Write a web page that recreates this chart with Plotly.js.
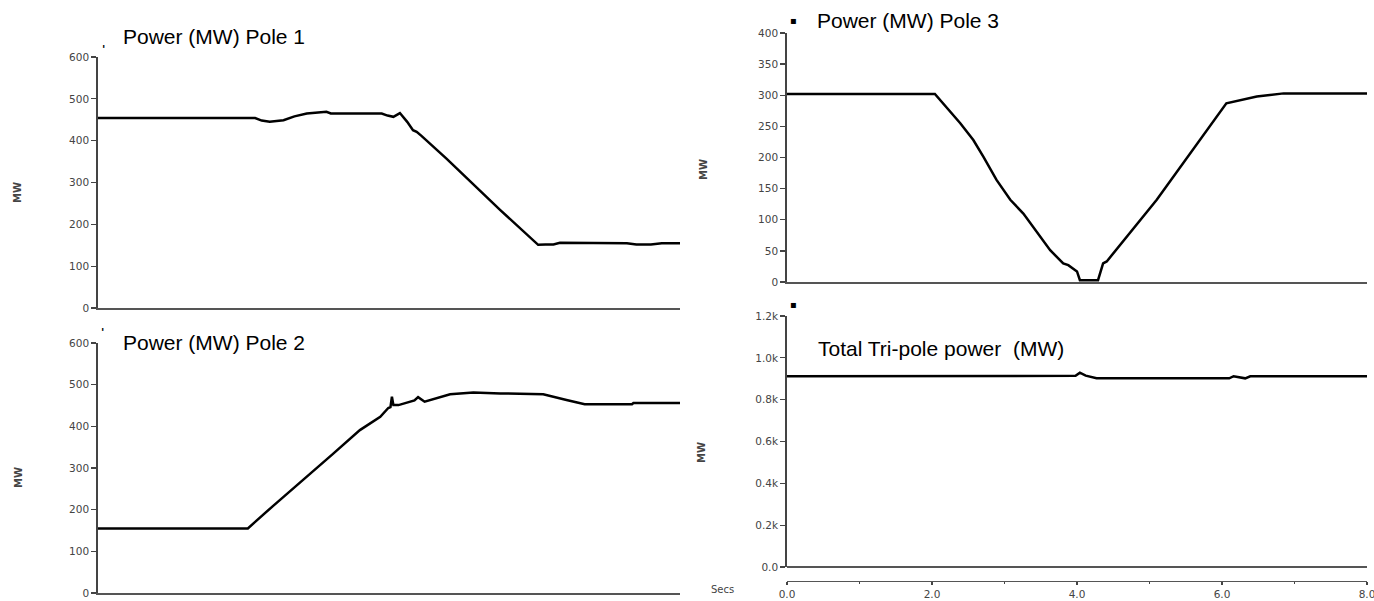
<!DOCTYPE html>
<html>
<head>
<meta charset="utf-8">
<script src="https://cdn.plot.ly/plotly-3.0.1.min.js"></script>
<style>
  html, body { margin: 0; padding: 0; background: #ffffff; }
  #chart { width: 1374px; height: 601px; }
</style>
</head>
<body>
<div id="chart"></div>
<script>
// ---- Data ----
var pole1Time = [0, 2.16, 2.25, 2.36, 2.55, 2.70, 2.87, 3.14, 3.20, 3.90, 3.98, 4.06, 4.15, 4.25, 4.33, 4.38, 4.45, 4.79, 5.53, 6.05, 6.15, 6.26, 6.35, 6.80, 7.27, 7.40, 7.60, 7.75, 8.0];
var pole1MW   = [454, 454, 448, 445, 449, 458, 465, 469, 465, 465, 460, 457, 466, 445, 425, 421, 411, 357, 234, 151, 152, 152, 156, 155, 155, 152, 152, 155, 155];

var pole2Time = [0, 2.06, 2.40, 2.78, 3.23, 3.60, 3.88, 3.99, 4.02, 4.04, 4.06, 4.13, 4.22, 4.35, 4.40, 4.49, 4.84, 5.16, 5.53, 6.12, 6.44, 6.69, 7.34, 7.36, 8.0];
var pole2MW   = [155, 155, 208, 265, 334, 391, 423, 444, 446, 471, 451, 451, 455, 462, 470, 459, 477, 481, 479, 477, 463, 453, 453, 456, 456];

var pole3Time = [0, 2.04, 2.39, 2.57, 2.71, 2.89, 3.08, 3.26, 3.63, 3.81, 3.88, 4.00, 4.04, 4.29, 4.36, 4.41, 5.10, 5.81, 6.06, 6.48, 6.85, 8.0];
var pole3MW   = [302, 302, 255, 228, 201, 164, 132, 110, 51, 30, 27, 17, 3, 3, 30, 33, 132, 247, 287, 298, 303, 303];

var totalTime = [0, 3.58, 3.98, 4.04, 4.12, 4.27, 6.10, 6.16, 6.25, 6.32, 6.39, 8.0];
var totalMW   = [912, 912, 914, 929, 915, 902, 902, 912, 906, 902, 912, 912];

var pole12Ticks = [0, 100, 200, 300, 400, 500, 600];
var pole3Ticks  = [0, 50, 100, 150, 200, 250, 300, 350, 400];
var totalTicks  = [0, 200, 400, 600, 800, 1000, 1200];
var totalTickText = ['0.0', '0.2k', '0.4k', '0.6k', '0.8k', '1.0k', '1.2k'];
var secTicks = [0, 2, 4, 6, 8];

var titles = ['Power (MW) Pole 1', 'Power (MW) Pole 2', 'Power (MW) Pole 3', 'Total Tri-pole power\u00a0\u00a0(MW)'];

// ---- Layout helpers ----
var W = 1374, H = 601;
function px(x) { return x / W; }
function py(y) { return 1 - y / H; }

var lineStyle = { color: '#000000', width: 2.5 };
function trace(x, y, xa, ya) {
  return { x: x, y: y, xaxis: xa, yaxis: ya, type: 'scatter', mode: 'lines',
           line: lineStyle, hoverinfo: 'skip', showlegend: false };
}

var tickFont = { family: 'DejaVu Sans, sans-serif', size: 10.5, color: '#444444' };
function yAxis(domain, anchor, range, vals, text) {
  return {
    domain: domain, anchor: anchor, range: range, fixedrange: true,
    tickmode: 'array', tickvals: vals, ticktext: text,
    showgrid: false, zeroline: false,
    showline: true, linecolor: '#444444', linewidth: 1.8,
    ticks: 'outside', ticklen: 5, tickwidth: 1.3, tickcolor: '#444444',
    tickfont: tickFont
  };
}
function xAxisPlain(domain, anchor) {
  return {
    domain: domain, anchor: anchor, range: [0, 8], fixedrange: true,
    showgrid: false, zeroline: false, showticklabels: false, ticks: '',
    showline: true, linecolor: '#555555', linewidth: 1.6
  };
}

var leftX  = [px(98), px(680)];
var rightX = [px(787), px(1367)];

var layout = {
  width: W, height: H,
  margin: { l: 0, r: 0, t: 0, b: 0, pad: 0 },
  paper_bgcolor: '#ffffff', plot_bgcolor: '#ffffff',
  showlegend: false,
  font: { family: 'Arial, Liberation Sans, sans-serif' },

  xaxis:  xAxisPlain(leftX, 'y'),
  yaxis:  yAxis([py(308), py(57)], 'x', [0, 600], pole12Ticks, pole12Ticks.map(String)),

  xaxis2: xAxisPlain(leftX, 'y2'),
  yaxis2: yAxis([py(593), py(343)], 'x2', [0, 600], pole12Ticks, pole12Ticks.map(String)),

  xaxis3: xAxisPlain(rightX, 'y3'),
  yaxis3: yAxis([py(282), py(33)], 'x3', [0, 400], pole3Ticks, pole3Ticks.map(String)),

  xaxis4: {
    domain: rightX, anchor: 'free', position: py(581), range: [0, 8], fixedrange: true,
    showgrid: false, zeroline: false,
    showline: true, linecolor: '#555555', linewidth: 1.4,
    tickmode: 'array', tickvals: secTicks, ticktext: secTicks.map(function (v) { return v.toFixed(1); }),
    ticks: 'outside', ticklen: 3, tickwidth: 1.3, tickcolor: '#444444',
    minor: { dtick: 1, ticks: 'outside', ticklen: 2, tickwidth: 1.2, tickcolor: '#444444' },
    ticklabeloverflow: 'allow',
    tickfont: tickFont
  },
  yaxis4: Object.assign(
    yAxis([py(567), py(316)], 'x4', [0, 1200], totalTicks, totalTickText),
    { zeroline: true, zerolinecolor: '#555555', zerolinewidth: 1.6 }
  ),

  annotations: []
};

var titlePos = [[123, 37], [123, 342], [817, 21], [818, 348]];
titles.forEach(function (t, i) {
  layout.annotations.push({
    text: t, xref: 'paper', yref: 'paper',
    x: px(titlePos[i][0] - 2), y: py(titlePos[i][1]),
    xanchor: 'left', yanchor: 'middle', showarrow: false,
    font: { family: 'Arial, Liberation Sans, sans-serif', size: 21, color: '#000000' }
  });
});

var mwPos = [[18, 193], [18, 478], [704, 170], [701, 452]];
mwPos.forEach(function (p) {
  layout.annotations.push({
    text: '<b>MW</b>', xref: 'paper', yref: 'paper', x: px(p[0]), y: py(p[1]),
    xanchor: 'center', yanchor: 'middle', showarrow: false, textangle: -90,
    font: { family: 'DejaVu Sans, sans-serif', size: 10, color: '#444444' }
  });
});

layout.annotations.push({
  text: 'Secs', xref: 'paper', yref: 'paper', x: px(723), y: py(589),
  xanchor: 'center', yanchor: 'middle', showarrow: false,
  font: { family: 'DejaVu Sans, sans-serif', size: 10, color: '#444444' }
});

var markPos = [[793, 21], [793, 304]];
markPos.forEach(function (p) {
  layout.annotations.push({
    text: '\u25AA', xref: 'paper', yref: 'paper', x: px(p[0]), y: py(p[1]),
    xanchor: 'center', yanchor: 'middle', showarrow: false,
    font: { family: 'DejaVu Sans, sans-serif', size: 10, color: '#000000' }
  });
});
var tickMarkPos = [[103, 46], [102, 330]];
tickMarkPos.forEach(function (p) {
  layout.annotations.push({
    text: '<b>\'</b>', xref: 'paper', yref: 'paper', x: px(p[0]), y: py(p[1] + 3),
    xanchor: 'center', yanchor: 'middle', showarrow: false,
    font: { family: 'DejaVu Sans, sans-serif', size: 11, color: '#000000' }
  });
});

var data = [
  trace(pole1Time, pole1MW, 'x', 'y'),
  trace(pole2Time, pole2MW, 'x2', 'y2'),
  trace(pole3Time, pole3MW, 'x3', 'y3'),
  trace(totalTime, totalMW, 'x4', 'y4')
];

Plotly.newPlot('chart', data, layout, { displayModeBar: false, staticPlot: true });
</script>
</body>
</html>
